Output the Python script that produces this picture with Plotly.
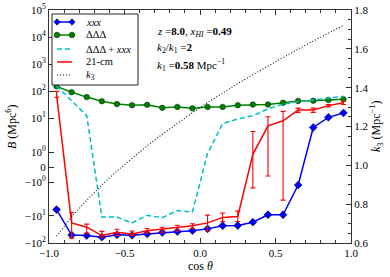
import numpy as np
import plotly.graph_objects as go

# ---------------- data ----------------
cos_theta = [-0.95, -0.85, -0.75, -0.65, -0.55, -0.45, -0.35, -0.25, -0.15, -0.05,
             0.05, 0.15, 0.25, 0.35, 0.45, 0.55, 0.65, 0.75, 0.85, 0.95]

B_xxx = [-5.8, -51, -53, -61, -50, -52, -46, -41, -38, -35,
         -30, -23, -22.5, -17, -9, -9, -1.2, 4.5, 10.7, 15.5]

B_ddd = [150, 91, 60, 42, 33, 30, 31, 24, 26, 23,
         26, 26, 30, 31.6, 32, 37, 43, 44, 47, 50]

B_sum = [155, 45, 12.3, -11, -11, -18, -9.5, -11.5, -6.3, -7.1,
         0.9, 6.3, 9.3, 12.3, 22, 33, 41, 47, 56, 64]

B_21cm = [74, -18, -26, -53, -40, -46, -35, -31, -26, -23,
          -18, -11.3, -10.5, 0.85, 5.2, 8, 20, 20, 29, 37]
B_21cm_upper = [98, -7.4, -20, -37, -31, -36, -29, -26, -22, -19.5,
                -9.3, -7.8, -6.6, 3.2, 11.3, 17.8, 23.5, 23.5, 32, 43]
B_21cm_lower = [59, -66, -43, -61, -53, -53, -43, -40, -36, -29,
                -36, -16, -16, -1.39, -0.6, -2.6, 16.3, 16.3, 26, 32]

k3 = [0.635, 0.734, 0.820, 0.899, 0.971, 1.038, 1.100, 1.160, 1.217, 1.271,
      1.323, 1.373, 1.421, 1.467, 1.512, 1.556, 1.599, 1.640, 1.681, 1.721]

B_tick_values = [-100, -10, -1, 0, 1, 10, 100, 1e3, 1e4, 1e5]
B_tick_labels = ["\u221210<sup>2</sup>", "\u221210<sup>1</sup>", "\u221210<sup>0</sup>", "0",
                 "10<sup>0</sup>", "10<sup>1</sup>", "10<sup>2</sup>", "10<sup>3</sup>",
                 "10<sup>4</sup>", "10<sup>5</sup>"]
x_tick_values = [-1.0, -0.5, 0.0, 0.5, 1.0]
x_tick_labels = ["\u22121.0", "\u22120.5", "0.0", "0.5", "1.0"]
k3_tick_values = [0.6, 0.8, 1.0, 1.2, 1.4, 1.6, 1.8]
k3_tick_labels = ["0.6", "0.8", "1.0", "1.2", "1.4", "1.6", "1.8"]


# symmetric-log transform (linthresh=2, linscale=1), as matplotlib's symlog axis
def symlog(v, linthresh=2.0, linscale=1.0):
    v = np.asarray(v, dtype=float)
    adj = linscale / (1.0 - 1.0 / 10.0)
    a = np.abs(v)
    lin = v / linthresh * adj
    lg = np.sign(v) * (adj + np.log10(np.maximum(a, linthresh) / linthresh))
    return np.where(a <= linthresh, lin, lg)


FONT = "Liberation Serif"
BLUE, GREEN, CYAN, RED = "#0000ff", "#008000", "#00bfbf", "#ff0000"
DOT = "1px,2px"

fig = go.Figure()

fig.add_trace(go.Scatter(
    x=cos_theta, y=symlog(B_xxx), mode="lines+markers", name="xxx",
    line=dict(color=BLUE, width=1.5),
    marker=dict(symbol="diamond", size=6, color=BLUE, line=dict(color="#000040", width=0.6)),
    showlegend=False))

fig.add_trace(go.Scatter(
    x=cos_theta, y=symlog(B_ddd), mode="lines+markers", name="ΔΔΔ",
    line=dict(color=GREEN, width=1.5),
    marker=dict(symbol="circle", size=5.5, color=GREEN, line=dict(color="#003000", width=0.6)),
    showlegend=False))

fig.add_trace(go.Scatter(
    x=cos_theta, y=symlog(B_sum), mode="lines", name="ΔΔΔ + xxx",
    line=dict(color=CYAN, width=1.5, dash="5px,3px"),
    showlegend=False))

y21 = symlog(B_21cm)
err_up = symlog(B_21cm_upper) - y21
err_dn = y21 - symlog(B_21cm_lower)
fig.add_trace(go.Scatter(
    x=cos_theta, y=y21, mode="lines", name="21-cm",
    line=dict(color=RED, width=1.5),
    error_y=dict(type="data", array=err_up, arrayminus=err_dn, symmetric=False,
                 color=RED, thickness=1.1, width=2.5),
    showlegend=False))

fig.add_trace(go.Scatter(
    x=cos_theta, y=k3, mode="lines", name="k3", yaxis="y2",
    line=dict(color="#111111", width=1.1, dash=DOT),
    showlegend=False))

# ---------------- layout ----------------
L, R, T, Bm = 49, 39, 10, 34
W, H = 390, 277
PW, PH = W - L - R, H - T - Bm


def px2x(px):
    return (px - L) / PW


def px2y(py):
    return (H - Bm - py) / PH


tickfont = dict(family=FONT, size=11, color="black")
AX = "#333"

fig.update_layout(
    width=W, height=H,
    margin=dict(l=L, r=R, t=T, b=Bm, pad=0, autoexpand=False),
    paper_bgcolor="white", plot_bgcolor="white",
    font=dict(family=FONT, size=11, color="black"),
    showlegend=False,
    xaxis=dict(range=[-1, 1], tickvals=x_tick_values, ticktext=x_tick_labels,
               ticks="inside", ticklen=5, tickcolor=AX, tickwidth=1,
               minor=dict(dtick=0.1, ticks="inside", ticklen=3, tickcolor=AX, tickwidth=1),
               showline=True, linecolor=AX, linewidth=1, mirror="ticks",
               showgrid=False, zeroline=False, tickfont=tickfont, automargin=False),
    yaxis=dict(range=[float(symlog(-100)), float(symlog(1e5))],
               tickvals=list(symlog(B_tick_values)), ticktext=B_tick_labels,
               ticks="inside", ticklen=5, tickcolor=AX, tickwidth=1,
               showline=True, linecolor=AX, linewidth=1,
               showgrid=False, zeroline=False, tickfont=tickfont, automargin=False),
    yaxis2=dict(range=[0.6, 1.8], overlaying="y", side="right",
                tickvals=k3_tick_values, ticktext=k3_tick_labels,
                ticks="inside", ticklen=5, tickcolor=AX, tickwidth=1,
                minor=dict(dtick=0.05, ticks="inside", ticklen=3, tickcolor=AX, tickwidth=1),
                showline=True, linecolor=AX, linewidth=1,
                showgrid=False, zeroline=False, tickfont=tickfont, automargin=False),
)

annotations = []
shapes = []

# axis titles
annotations.append(dict(text="<i>B</i> (Mpc<sup>6</sup>)", xref="paper", yref="paper",
                        x=px2x(12), y=px2y(127), textangle=-90, showarrow=False,
                        font=dict(family=FONT, size=12), xanchor="center", yanchor="middle"))
annotations.append(dict(text="<i>k</i><sub>3</sub> (Mpc<sup>\u22121</sup>)", xref="paper", yref="paper",
                        x=px2x(377), y=px2y(127), textangle=-90, showarrow=False,
                        font=dict(family=FONT, size=12), xanchor="center", yanchor="middle"))
annotations.append(dict(text="cos <i>θ</i>", xref="paper", yref="paper",
                        x=px2x(200), y=px2y(266), showarrow=False,
                        font=dict(family=FONT, size=12), xanchor="center", yanchor="middle"))

# info text
info = ["<i>z</i> =<b>8.0</b>, <i>x<sub>HI</sub></i> =<b>0.49</b>",
        "<i>k</i><sub>2</sub>/<i>k</i><sub>1</sub> =<b>2</b>",
        "<i>k</i><sub>1</sub> =<b>0.58</b> Mpc<sup>\u22121</sup>"]
for txt, py in zip(info, [32, 48, 65]):
    annotations.append(dict(text=txt, xref="paper", yref="paper", x=px2x(155), y=px2y(py),
                            showarrow=False, xanchor="left", yanchor="middle",
                            font=dict(family=FONT, size=11)))

# legend (drawn manually to match compact matplotlib layout)
shapes.append(dict(type="rect", xref="paper", yref="paper",
                   x0=px2x(52), x1=px2x(138), y0=px2y(85), y1=px2y(14),
                   line=dict(color="#222", width=1), fillcolor="white", layer="above"))
legend_rows = [
    ("<i>xxx</i>", BLUE, "solid", "diamond", 22),
    ("ΔΔΔ", GREEN, "solid", "circle", 35),
    ("ΔΔΔ + <i>xxx</i>", CYAN, "5px,3px", None, 49),
    ("21-cm", RED, "solid", None, 62),
    ("<i>k</i><sub>3</sub>", "#111111", DOT, None, 75),
]
for label, col, dash, sym, py in legend_rows:
    shapes.append(dict(type="line", xref="paper", yref="paper",
                       x0=px2x(57), x1=px2x(72), y0=px2y(py), y1=px2y(py),
                       line=dict(color=col, width=1.5 if dash != DOT else 1.1, dash=dash),
                       layer="above"))
    for mx in (57, 72):
        if sym == "circle":
            shapes.append(dict(type="circle", xref="paper", yref="paper",
                               xsizemode="pixel", ysizemode="pixel",
                               xanchor=px2x(mx), yanchor=px2y(py),
                               x0=-2.8, x1=2.8, y0=-2.8, y1=2.8,
                               fillcolor=col, line=dict(color="#003000", width=0.6), layer="above"))
        elif sym == "diamond":
            shapes.append(dict(type="path", xref="paper", yref="paper",
                               xsizemode="pixel", ysizemode="pixel",
                               xanchor=px2x(mx), yanchor=px2y(py),
                               path="M -3.2,0 L 0,3.2 L 3.2,0 L 0,-3.2 Z",
                               fillcolor=col, line=dict(color="#000040", width=0.6), layer="above"))
    annotations.append(dict(text=label, xref="paper", yref="paper", x=px2x(84), y=px2y(py),
                            showarrow=False, xanchor="left", yanchor="middle",
                            font=dict(family=FONT, size=10.5)))

fig.update_layout(annotations=annotations, shapes=shapes)

fig.write_html("out.html", config={"displayModeBar": False},
               post_script="document.body.style.margin='0';document.body.style.padding='0';")
